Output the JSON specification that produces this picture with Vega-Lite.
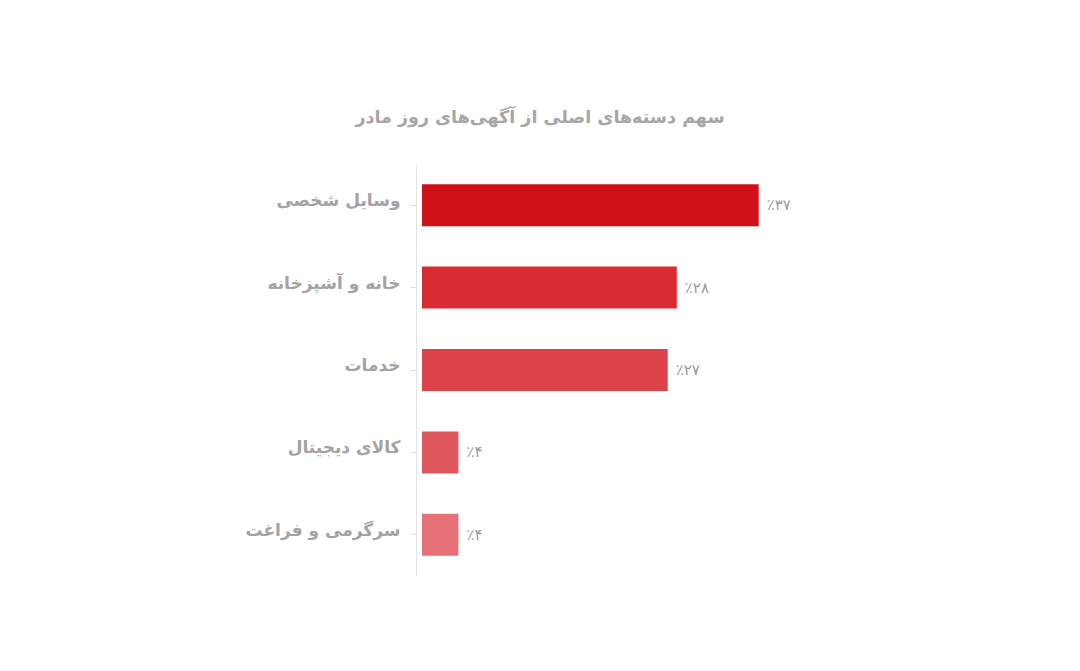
{
  "$schema": "https://vega.github.io/schema/vega-lite/v6.json",
  "autosize": {"type": "none"},
  "width": 364,
  "height": 412,
  "padding": {"left": 422, "top": 164, "right": 294, "bottom": 95},
  "background": "#ffffff",
  "config": {"view": {"stroke": null}, "font": "DejaVu Sans"},
  "title": {
    "text": "سهم دسته‌های اصلی از آگهی‌های روز مادر",
    "anchor": "middle",
    "dx": -64,
    "offset": 38,
    "font": "DejaVu Sans",
    "fontSize": 17.5,
    "fontWeight": "bold",
    "color": "#a6a6a6"
  },
  "data": {
    "values": [
      {"category": "وسایل شخصی", "share": 37, "label": "٪۳۷"},
      {"category": "خانه و آشپزخانه", "share": 28, "label": "٪۲۸"},
      {"category": "خدمات", "share": 27, "label": "٪۲۷"},
      {"category": "کالای دیجیتال", "share": 4, "label": "٪۴"},
      {"category": "سرگرمی و فراغت", "share": 4, "label": "٪۴"}
    ]
  },
  "encoding": {
    "y": {
      "field": "category",
      "type": "nominal",
      "sort": null,
      "title": null,
      "scale": {"paddingInner": 0, "paddingOuter": 0},
      "axis": {
        "offset": 6,
        "domainColor": "#e3e3e3",
        "tickColor": "#dcdcdc",
        "tickSize": 6,
        "labelPadding": 10,
        "labelFont": "DejaVu Sans",
        "labelFontSize": 17,
        "labelFontWeight": "bold",
        "labelColor": "#a3a3a3",
        "labelOffset": -4
      }
    },
    "x": {
      "field": "share",
      "type": "quantitative",
      "scale": {"domain": [0, 40]},
      "axis": null
    }
  },
  "layer": [
    {
      "mark": {"type": "bar", "size": 42},
      "encoding": {
        "color": {
          "field": "category",
          "type": "nominal",
          "legend": null,
          "scale": {
            "domain": ["وسایل شخصی", "خانه و آشپزخانه", "خدمات", "کالای دیجیتال", "سرگرمی و فراغت"],
            "range": ["#d01117", "#d92b33", "#dc4249", "#e0585e", "#e57075"]
          }
        }
      }
    },
    {
      "mark": {
        "type": "text",
        "align": "left",
        "baseline": "middle",
        "dx": 8,
        "font": "DejaVu Sans",
        "fontSize": 15,
        "color": "#9a9a9a"
      },
      "encoding": {"text": {"field": "label"}}
    }
  ]
}
